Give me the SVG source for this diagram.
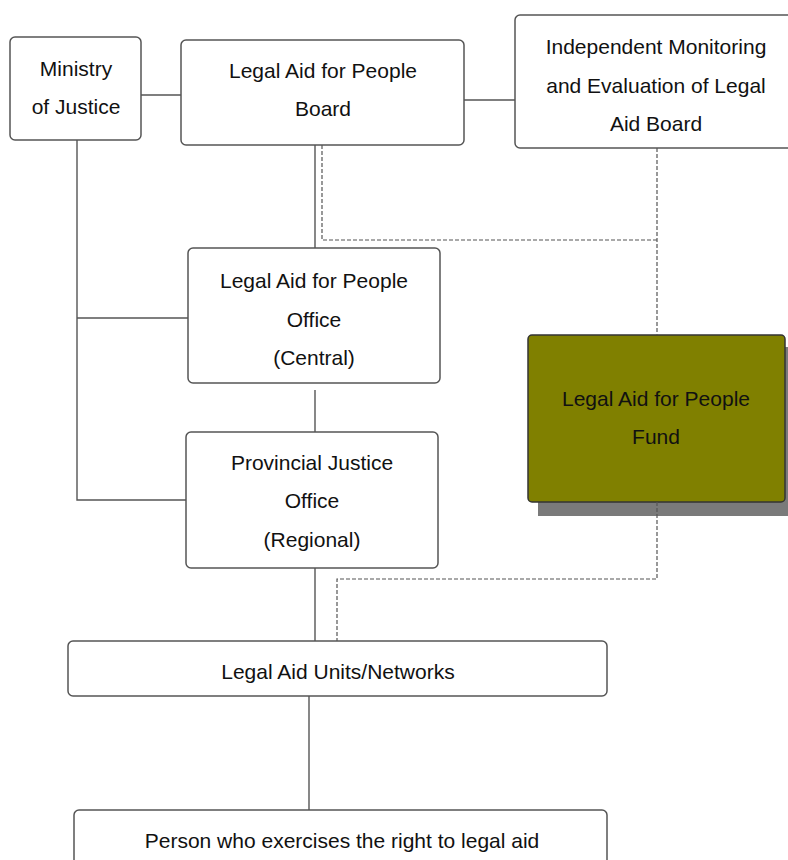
<svg xmlns="http://www.w3.org/2000/svg" width="788" height="860" viewBox="0 0 788 860">
<style>
.box{fill:#fff;stroke:#555;stroke-width:1.5}
.t{font-family:"Liberation Sans","DejaVu Sans",sans-serif;font-size:21px;fill:#111;text-anchor:middle}
.ln{fill:none;stroke:#555;stroke-width:1.4}
.dl{fill:none;stroke:#555;stroke-width:1.2;stroke-dasharray:4 2}
</style>
<rect width="788" height="860" fill="#fff"/>
<g id="ministry">
<rect class="box" x="10" y="37" width="131" height="103" rx="5"/>
<text class="t" x="76" y="76">Ministry</text>
<text class="t" x="76" y="114">of Justice</text>
</g>
<g id="board">
<rect class="box" x="181" y="40" width="283" height="105" rx="5"/>
<text class="t" x="323" y="78">Legal Aid for People</text>
<text class="t" x="323" y="116">Board</text>
</g>
<g id="monitoring">
<rect class="box" x="515" y="15" width="280" height="133" rx="5"/>
<text class="t" x="656" y="54">Independent Monitoring</text>
<text class="t" x="656" y="93">and Evaluation of Legal</text>
<text class="t" x="656" y="131">Aid Board</text>
</g>
<g id="central">
<rect class="box" x="188" y="248" width="252" height="135" rx="5"/>
<text class="t" x="314" y="288">Legal Aid for People</text>
<text class="t" x="314" y="327">Office</text>
<text class="t" x="314" y="365">(Central)</text>
</g>
<g id="provincial">
<rect class="box" x="186" y="432" width="252" height="136" rx="5"/>
<text class="t" x="312" y="470">Provincial Justice</text>
<text class="t" x="312" y="508">Office</text>
<text class="t" x="312" y="547">(Regional)</text>
</g>
<g id="fund">
<rect x="538" y="347" width="252" height="169" fill="#7a7a7a"/>
<rect x="528" y="335" width="257" height="167" rx="4" fill="#808000" stroke="#333" stroke-width="1.5"/>
<text class="t" x="656" y="406">Legal Aid for People</text>
<text class="t" x="656" y="444">Fund</text>
</g>
<g id="units">
<rect class="box" x="68" y="641" width="539" height="55" rx="5"/>
<text class="t" x="338" y="679">Legal Aid Units/Networks</text>
</g>
<g id="person">
<rect class="box" x="74" y="810" width="533" height="70" rx="5"/>
<text class="t" x="342" y="848">Person who exercises the right to legal aid</text>
</g>
<g id="connectors">
<path class="ln" d="M141 95H181"/>
<path class="ln" d="M464 100H515"/>
<path class="ln" d="M77 140V500H186M77 318H188"/>
<path class="ln" d="M315 145V248"/>
<path class="ln" d="M315 390V432"/>
<path class="ln" d="M315 568V641"/>
<path class="ln" d="M309 696V810"/>
<path class="dl" d="M322 145V240H657"/>
<path class="dl" d="M657 148V335"/>
<path class="dl" d="M657 502V579H337V641"/>
</g>
</svg>
